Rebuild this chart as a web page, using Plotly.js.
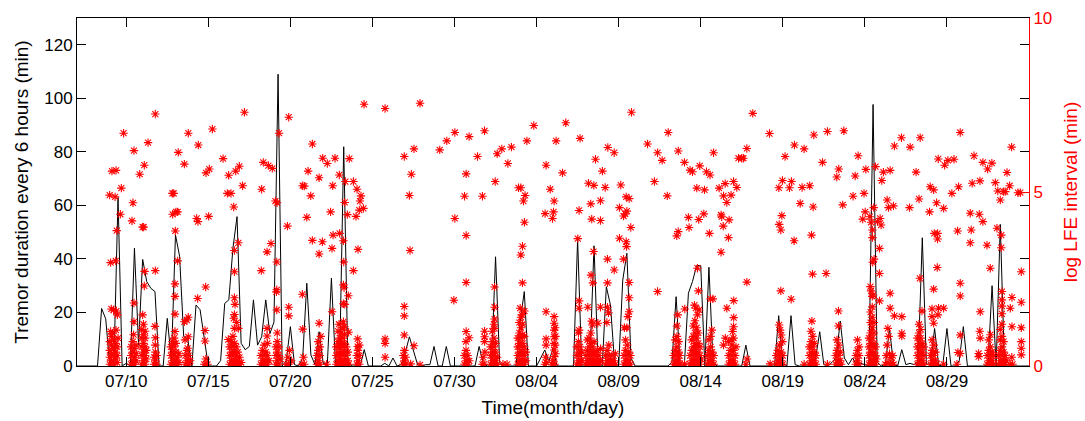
<!DOCTYPE html>
<html>
<head>
<meta charset="utf-8">
<script src="https://cdn.plot.ly/plotly-3.0.1.min.js"></script>
<style>html,body{margin:0;padding:0;background:#fff}#chart{width:1085px;height:421px}</style>
</head>
<body>
<div id="chart"></div>
<script>
// Time axis: days since 07/07 00:00
const axisDays = [0, 58];
const tickDays = [3, 8, 13, 18, 23, 28, 33, 38, 43, 48, 53];
const tickLabels = ['07/10','07/15','07/20','07/25','07/30','08/04','08/09','08/14','08/19','08/24','08/29'];
const tremorStepDays = 0.25; // one sample every 6 hours

// Tremor duration every 6 hours (min), from 07/07 00:00
const tremorMinutes = [
  0,0,0,0,0,0,21.5,17.6,0,1,
  62.9,0,1,0,44,7.8,39.8,31.5,29,27.8,
  0,0,17.8,2,49,41,11,10,0,22.8,
  21,10,0,0,0,2,23.4,24.7,44,55.8,
  8.5,6.1,7.3,24.7,7.8,10.9,24.7,12.1,16.4,109,
  0,2,14.7,0.5,0,3,30.9,4.1,0.5,12.8,
  1,0.5,32.8,0.5,1,81.9,1.4,0,0,0,
  6.1,0,0,0,0,1,0,3,0,0.5,
  5,10.9,5.5,0.5,0,0.5,0.5,7.3,0,0,
  7.3,0,0,0,0,0,0,0,7.3,1,
  0,0,40.8,1,0,0,0,0,16.5,27.8,
  0,0,0,3,6,1.7,6.6,0,0,0,
  0,0,47.4,0,0,2,44.9,0,0,29.6,
  22.8,1.4,0,32.1,42.1,3,0,0,0,0,
  0,0,0,0,0,1.4,25.9,0,0,27.2,
  31.6,37.5,37.5,0,36.9,1.4,0,0,0,0,
  0,0,0,7.8,0,0,0,0,0,0,
  0,18.8,1,0,18.8,0.5,0,0,0,0,
  3,12.8,0.5,0,1.4,3,16.8,3,0.5,3,
  0.5,1,0.5,0,97.7,1.4,0,0.5,14,0.5,
  0,6.1,0.5,1,0.5,2,47.9,0.5,1,14,
  0,0.5,14,0,0,2,14.7,0,0,0,
  0,0,0.5,30,0,52.9,1.4,0,0,0,
  0,0,0
];

// log LFE interval (min): [day since 07/07, value]
const lfeUpperJuly = [
  [4.77,7.24],[2.84,6.69],[6.78,6.69],[4.33,6.42],[7.39,6.35],[3.47,6.19],[6.17,6.14],[4.10,5.77],[6.54,5.80],[2.13,5.60],[2.38,5.62],[3.82,5.51],[2.70,5.11],[1.99,4.91],[2.32,4.86],[5.81,4.96],[5.89,4.96],[3.41,4.69],[2.64,4.36],[5.83,4.36],[6.03,4.43],[6.13,4.43],[7.29,4.24],[7.37,4.15],[3.35,4.17],[4.00,3.99],[4.06,3.99],[2.42,3.89],[5.99,3.88],[2.05,2.97],[2.36,3.02],[6.13,3.02],[4.12,2.72],[4.77,2.74],[4.10,2.30],[5.97,2.36],[5.97,2.00],[7.35,1.94],[3.47,1.81],[2.09,1.64],[2.23,1.61],[2.40,1.58],[2.46,1.47],[5.97,1.49],[6.78,1.40],[6.70,1.32],[4.00,1.47],[3.47,1.27],[4.75,1.14],[6.54,1.27],[2.05,0.99],[2.17,0.94],[2.38,1.03],[5.97,0.99],[6.58,0.75],[4.77,0.81],[6.78,0.84],[4.77,0.60],[6.74,0.51],
  [10.20,7.29],[12.90,7.15],[8.25,6.81],[12.31,6.69],[14.34,6.38],[8.90,5.96],[11.35,5.85],[11.66,5.76],[11.90,5.68],[8.06,5.66],[7.86,5.55],[9.89,5.74],[9.67,5.60],[9.24,5.48],[14.08,5.60],[14.75,5.41],[10.09,5.18],[11.25,5.08],[13.75,5.18],[13.85,5.17],[9.16,4.96],[9.38,4.96],[14.24,4.89],[12.09,4.74],[12.19,4.69],[9.55,4.57],[8.02,4.30],[14.00,4.27],[12.82,4.02],[9.83,3.54],[11.82,3.52],[14.34,3.61],[9.59,3.32],[11.58,3.28],[14.75,3.22],[12.17,2.99],[9.59,2.71],[11.23,2.74],[7.84,2.27],[12.17,2.19],[12.15,2.13],[13.73,2.06],[9.59,1.96],[9.63,1.77],[12.17,1.61],[12.90,1.69],[12.90,1.44],[9.59,1.48],[9.55,1.37],[9.73,1.25],[14.75,1.23],[11.58,1.08],[9.59,1.08],[9.83,1.08],[13.75,1.06],[7.80,1.02],[7.80,0.72],[9.22,0.76],[11.58,0.86],
  [17.49,7.52],[18.77,7.40],[20.90,7.55],[20.53,6.24],[22.10,6.21],[19.94,6.02],[14.97,5.97],[15.25,5.82],[15.72,5.97],[16.59,5.96],[15.98,5.49],[16.35,5.30],[16.84,5.30],[20.37,5.51],[15.58,5.18],[17.06,5.08],[17.30,4.89],[17.24,4.74],[17.20,4.48],[17.45,4.53],[20.25,4.90],[16.31,4.70],[15.45,4.43],[16.47,4.35],[17.00,4.30],[16.00,3.81],[15.60,3.76],[14.95,3.57],[16.23,3.60],[15.54,3.38],[17.12,3.35],[20.29,3.32],[16.25,2.99],[16.84,2.74],[16.23,2.33],[16.27,2.25],[16.53,2.02],[16.23,1.79],[16.31,1.77],[15.54,1.56],[19.94,1.71],[19.94,1.44],[16.23,1.27],[16.29,1.13],[15.96,1.20],[16.55,0.97],[19.94,0.89],[17.10,0.78],[18.77,0.78],[18.77,0.65],[17.10,0.56],[20.53,0.58],[18.77,0.25],[20.33,0.06],[20.90,0.03],[15.21,0.05],
  [27.83,6.91],[24.83,6.76],[23.02,6.71],[23.89,6.59],[22.53,6.47],[27.41,6.47],[29.19,6.47],[26.47,6.29],[25.88,6.24],[25.60,6.10],[24.40,6.02],[26.25,5.82],[28.58,5.77],[23.71,5.52],[25.48,5.30],[26.90,5.12],[27.04,5.12],[28.83,5.08],[23.61,4.88],[24.70,4.88],[27.30,4.90],[27.20,4.74],[29.07,4.74],[28.52,4.38],[29.03,4.43],[28.97,4.24],[23.02,4.24],[27.26,4.13],[23.71,3.75],[27.14,3.44],[27.04,3.19],[23.71,2.40],[27.14,2.39],[25.44,2.27],[22.96,1.89],[25.44,1.69],[28.58,1.56],[27.00,1.66],[27.26,1.58],[27.10,1.47],[25.44,1.35],[25.44,1.08],[23.71,0.99],[23.89,0.81],[24.83,1.00],[24.83,0.84],[24.83,0.70],[28.58,0.78],[28.58,0.60],[29.07,1.42],[29.07,1.23],[29.07,1.03],[29.07,0.84],[29.07,0.65],[29.07,0.46],[29.07,0.27]
];
const lfeUpperAugust = [
  [33.78,7.29],[29.78,6.99],[36.02,6.71],[30.65,6.54],[34.76,6.38],[32.34,6.28],[35.37,6.13],[36.63,6.18],[32.73,6.13],[31.59,5.94],[35.65,5.91],[32.01,5.60],[29.58,5.55],[31.16,5.25],[31.49,5.19],[32.18,5.13],[33.13,5.20],[35.18,5.30],[33.46,4.86],[33.64,4.81],[35.96,4.89],[31.89,4.75],[31.30,4.66],[30.59,4.47],[33.05,4.55],[33.50,4.45],[33.40,4.37],[33.30,4.31],[31.36,4.22],[31.89,4.18],[33.74,3.98],[36.63,3.86],[36.54,3.74],[30.51,3.66],[33.05,3.67],[33.46,3.57],[33.48,3.43],[31.47,3.29],[32.32,3.07],[33.30,3.07],[32.73,2.76],[31.32,2.61],[31.43,2.39],[32.32,2.39],[33.64,2.40],[35.37,2.14],[33.64,1.96],[30.59,1.87],[30.59,1.66],[31.12,1.69],[31.89,1.69],[32.32,1.69],[32.38,1.53],[33.64,1.56],[33.56,1.42],[36.60,1.47],[31.36,1.29],[31.40,1.18],[31.73,1.23],[32.28,1.25],[33.35,1.10],[33.50,1.10],[30.59,1.03],
  [41.17,7.26],[42.19,6.68],[43.71,6.35],[38.78,6.13],[40.81,6.25],[40.30,5.97],[40.50,5.97],[40.60,5.97],[43.14,6.02],[37.01,5.85],[37.94,5.75],[37.35,5.63],[37.50,5.58],[38.35,5.58],[38.57,5.49],[40.00,5.30],[39.49,5.24],[39.12,5.11],[40.20,5.13],[37.76,5.11],[38.23,5.06],[42.98,5.33],[43.53,5.30],[42.76,5.12],[43.41,5.12],[39.85,4.91],[39.39,4.89],[39.59,4.70],[44.06,4.67],[38.19,4.37],[37.88,4.21],[37.25,4.27],[39.24,4.34],[39.28,4.29],[39.73,4.20],[42.94,4.32],[39.37,4.02],[42.78,4.07],[42.88,3.91],[37.29,3.98],[38.53,3.81],[39.69,3.69],[43.69,3.60],[39.24,3.27],[37.80,2.81],[40.81,2.41],[42.88,2.16],[43.51,1.92],[38.60,1.93],[38.74,1.93],[40.01,1.88],[37.03,1.64],[39.59,1.66],[40.01,1.39],[37.86,2.16],[37.62,1.75],[37.70,1.66],[37.90,1.61],[37.80,1.47],[38.68,1.03],[40.00,1.13],[39.94,0.99],[39.50,0.80],[39.70,0.70],[39.90,0.75],[39.39,0.60],[42.78,1.18],[42.84,1.03],[42.90,0.89],[42.98,0.70],[42.23,0.06],[37.01,0.06],
  [44.89,6.64],[45.72,6.74],[46.72,6.76],[44.30,6.24],[50.23,6.56],[49.80,6.32],[50.76,6.29],[51.37,6.56],[47.59,6.04],[45.42,5.85],[46.41,5.66],[46.29,5.43],[48.06,5.65],[48.65,5.73],[49.13,5.57],[49.03,5.33],[49.54,5.62],[51.12,5.57],[47.41,5.46],[44.18,5.13],[44.64,5.18],[47.95,4.96],[47.28,4.88],[49.36,4.77],[49.44,4.55],[49.74,4.60],[44.85,4.57],[46.65,4.63],[50.72,4.55],[51.30,4.80],[48.54,4.55],[48.02,4.43],[47.87,4.22],[48.30,4.29],[48.38,4.13],[48.77,4.15],[48.93,4.24],[48.99,4.05],[48.46,3.91],[48.46,3.69],[44.75,3.76],[48.89,3.38],[48.56,3.07],[48.48,2.98],[44.81,2.64],[45.64,2.66],[48.89,2.66],[51.35,2.52],[48.34,2.28],[48.38,2.16],[48.50,2.04],[49.54,2.09],[48.89,1.87],[46.39,1.58],[49.54,1.66],[49.80,1.44],[50.25,1.42],[44.77,1.29],[46.39,1.15],[50.25,0.94],[50.25,0.86],[49.40,1.08],[44.30,0.05],[45.72,0.05],
  [53.81,6.71],[56.94,6.29],[54.65,6.04],[52.47,5.95],[53.06,5.91],[52.86,5.77],[53.43,5.94],[55.19,5.85],[55.74,5.83],[55.48,5.66],[55.01,5.32],[54.54,5.25],[55.95,5.27],[56.66,5.56],[53.71,5.15],[53.30,4.96],[51.98,5.15],[52.19,5.06],[56.82,5.18],[56.10,5.03],[56.45,5.01],[56.55,5.01],[56.25,4.77],[57.33,4.98],[57.47,4.98],[52.37,4.69],[52.80,4.53],[51.94,4.43],[54.42,4.39],[54.97,4.36],[55.19,4.15],[54.48,3.91],[56.05,3.96],[53.65,3.88],[52.23,3.81],[52.43,3.81],[52.43,3.65],[56.31,3.76],[56.31,3.40],[54.42,3.54],[55.44,3.47],[52.41,2.83],[55.64,2.81],[57.53,2.71],[53.81,2.38],[53.81,2.01],[52.19,2.21],[56.35,2.14],[56.96,1.97],[57.53,1.83],[51.48,1.58],[52.09,1.64],[52.49,1.66],[52.80,1.66],[56.35,1.72],[56.86,1.66],[55.03,1.56],[52.09,1.42],[52.19,1.23],[52.45,1.47],[53.81,0.89],[55.00,1.00],[55.03,0.80],[56.96,1.13],[57.53,1.10],[53.67,0.39],[53.81,0.36],[54.93,0.36],[54.93,0.27],[57.53,0.70],[57.53,0.51],[57.53,0.32],[52.80,0.05],[53.61,0.05]
];
const lfeBurstsJuly = [
  [2.0,0.05],[2.0,0.25],[2.0,0.45],[2.0,0.7],[2.1,0.15],[2.1,0.35],[2.1,0.6],[2.1,0.85],[2.25,0.05],[2.25,0.3],[2.25,0.5],[2.25,0.75],[2.35,0.2],[2.35,0.4],[2.35,0.65],[2.45,0.1],[2.45,0.3],[2.45,0.55],[2.5,0.8],
  [3.3,0.05],[3.3,0.3],[3.3,0.55],[3.4,0.15],[3.4,0.4],[3.4,0.7],[3.5,0.05],[3.5,0.25],[3.5,0.5],[3.6,0.15],[3.6,0.35],[3.6,0.6],[3.45,0.9],
  [3.95,0.05],[3.95,0.3],[3.95,0.55],[3.95,0.8],[3.95,1.05],[4.05,0.15],[4.05,0.4],[4.05,0.65],[4.05,0.9],[4.05,1.2],[4.15,0.05],[4.15,0.3],[4.15,0.55],[4.15,0.8],[4.15,1.0],[4.22,0.2],[4.22,0.45],
  [4.7,0.05],[4.7,0.25],[4.78,0.15],[4.78,0.4],[4.85,0.05],[4.85,0.3],
  [5.72,0.05],[5.72,0.3],[5.72,0.55],[5.82,0.15],[5.82,0.4],[5.82,0.7],[5.92,0.05],[5.92,0.3],[5.92,0.55],[5.92,0.8],[6.02,0.15],[6.02,0.4],[6.02,0.65],[6.12,0.05],[6.12,0.25],[6.2,0.1],[6.2,0.35],
  [6.6,0.05],[6.6,0.3],[6.7,0.15],[6.7,0.45],[6.8,0.05],[6.8,0.3],[6.9,0.15],
  [7.75,0.05],[7.85,0.2],[7.95,0.05],
  [9.3,0.05],[9.3,0.3],[9.3,0.55],[9.4,0.15],[9.4,0.4],[9.4,0.7],[9.5,0.05],[9.5,0.3],[9.5,0.55],[9.5,0.85],[9.6,0.15],[9.6,0.4],[9.6,0.65],[9.7,0.05],[9.7,0.3],[9.7,0.55],[9.8,0.15],[9.8,0.4],[9.9,0.05],[9.9,0.25],[10.0,0.1],
  [11.2,0.05],[11.2,0.3],[11.3,0.15],[11.3,0.45],[11.4,0.05],[11.4,0.3],[11.4,0.6],[11.5,0.15],[11.5,0.4],[11.6,0.05],[11.6,0.3],[11.6,0.65],[11.7,0.15],
  [12.12,0.05],[12.12,0.3],[12.12,0.55],[12.2,0.15],[12.2,0.4],[12.2,0.7],[12.2,0.95],[12.3,0.05],[12.3,0.3],[12.3,0.55],[12.38,0.2],
  [12.75,0.05],[12.85,0.25],[12.9,0.05],[12.95,0.45],[13.05,0.15],
  [13.7,0.05],[13.8,0.25],[13.85,0.05],
  [14.62,0.05],[14.62,0.3],[14.7,0.15],[14.7,0.45],[14.7,0.7],[14.8,0.05],[14.8,0.3],[14.8,0.55],[14.85,0.85],
  [15.8,0.05],[15.8,0.3],[15.8,0.55],[15.9,0.15],[15.9,0.4],[15.9,0.7],[15.9,1.0],[16.0,0.05],[16.0,0.3],[16.0,0.55],[16.0,0.8],[16.1,0.15],[16.1,0.4],[16.1,0.65],[16.1,0.95],[16.2,0.05],[16.2,0.3],[16.2,0.55],[16.2,0.8],[16.2,1.1],[16.3,0.15],[16.3,0.4],[16.3,0.65],[16.3,0.9],[16.4,0.05],[16.4,0.3],[16.4,0.55],[16.5,0.15],[16.5,0.4],[16.55,0.05],
  [17.05,0.05],[17.05,0.3],[17.12,0.15],[17.12,0.45],[17.2,0.05],[17.2,0.3],[17.2,0.6],
  [19.88,0.05],[19.88,0.3],[19.95,0.15],[19.95,0.45],[20.02,0.05],[20.02,0.25],
  [23.6,0.05],[23.6,0.3],[23.7,0.15],[23.7,0.45],[23.7,0.7],[23.8,0.05],[23.8,0.3],[23.9,0.15],
  [24.7,0.05],[24.75,0.25],[24.8,0.05],[24.85,0.4],
  [25.2,0.05],[25.2,0.3],[25.2,0.55],[25.3,0.15],[25.3,0.4],[25.3,0.7],[25.3,1.0],[25.4,0.05],[25.4,0.3],[25.4,0.55],[25.4,0.8],[25.4,1.2],[25.5,0.15],[25.5,0.4],[25.5,0.65],[25.6,0.05],[25.6,0.25],
  [25.95,0.05],[26.2,0.05],
  [26.85,0.05],[26.85,0.3],[26.85,0.55],[26.85,0.8],[26.95,0.15],[26.95,0.4],[26.95,0.65],[26.95,0.95],[26.95,1.25],[27.05,0.05],[27.05,0.3],[27.05,0.55],[27.05,0.8],[27.05,1.1],[27.05,1.4],[27.15,0.15],[27.15,0.4],[27.15,0.65],[27.15,0.9],[27.15,1.2],[27.25,0.05],[27.25,0.3],[27.25,0.55],[27.25,0.85],[27.35,0.15],[27.35,0.4],
  [28.5,0.05],[28.55,0.25],[28.6,0.1],
  [28.95,0.05],[29.0,0.15],[29.1,0.05],[29.15,0.35],[29.13,0.6],[29.15,0.85],[29.13,1.1]
];
const lfeBurstsAugust = [
  [30.45,0.05],[30.45,0.3],[30.45,0.55],[30.55,0.15],[30.55,0.4],[30.55,0.7],[30.55,0.95],[30.65,0.05],[30.65,0.3],[30.65,0.55],[30.75,0.15],[30.75,0.4],
  [31.0,0.05],[31.0,0.3],[31.1,0.15],[31.1,0.45],[31.1,0.75],[31.2,0.05],[31.2,0.3],[31.2,0.55],[31.2,0.8],[31.3,0.15],[31.3,0.4],[31.3,0.65],[31.3,0.95],[31.4,0.05],[31.4,0.3],[31.4,0.55],[31.5,0.15],[31.5,0.4],[31.5,0.7],[31.6,0.05],[31.6,0.3],[31.7,0.15],[31.7,0.45],[31.8,0.05],[31.8,0.3],[31.9,0.15],[31.9,0.5],
  [32.2,0.05],[32.2,0.3],[32.3,0.15],[32.3,0.45],[32.4,0.05],[32.4,0.3],[32.4,0.6],[32.5,0.15],[32.6,0.05],[32.6,0.3],[32.7,0.15],[32.8,0.05],[32.8,0.35],
  [33.32,0.05],[33.32,0.3],[33.42,0.15],[33.42,0.45],[33.42,0.75],[33.52,0.05],[33.52,0.3],[33.52,0.6],[33.62,0.15],[33.62,0.4],[33.72,0.05],[33.72,0.3],
  [36.35,0.05],[36.35,0.3],[36.45,0.15],[36.45,0.45],[36.45,0.75],[36.55,0.05],[36.55,0.3],[36.55,0.55],[36.55,0.85],[36.55,1.15],[36.65,0.15],[36.65,0.4],[36.65,0.7],[36.72,0.05],[36.72,0.3],
  [37.35,0.05],[37.35,0.3],[37.45,0.15],[37.45,0.45],[37.45,0.75],[37.55,0.05],[37.55,0.3],[37.55,0.55],[37.55,0.85],[37.55,1.15],[37.65,0.15],[37.65,0.4],[37.65,0.65],[37.65,0.95],[37.65,1.3],[37.75,0.05],[37.75,0.3],[37.75,0.55],[37.75,0.8],[37.75,1.1],[37.85,0.15],[37.85,0.4],[37.85,0.65],[37.85,0.95],[37.95,0.05],[37.95,0.3],[37.95,0.55],[38.03,0.2],
  [38.4,0.05],[38.4,0.3],[38.5,0.15],[38.5,0.45],[38.5,0.75],[38.6,0.05],[38.6,0.3],[38.6,0.55],[38.6,0.85],[38.7,0.15],[38.7,0.4],[38.8,0.05],[38.8,0.3],
  [39.7,0.05],[39.7,0.3],[39.8,0.15],[39.8,0.45],[39.9,0.05],[39.9,0.3],[39.9,0.6],[40.0,0.15],[40.0,0.45],[40.0,0.8],[40.1,0.05],[40.1,0.3],[40.15,0.55],
  [40.75,0.05],[40.82,0.2],
  [42.6,0.05],[42.6,0.3],[42.7,0.15],[42.7,0.45],[42.8,0.05],[42.8,0.3],[42.8,0.6],[42.9,0.15],[42.9,0.4],[43.0,0.05],[43.0,0.3],
  [44.62,0.05],[44.62,0.3],[44.62,0.55],[44.72,0.15],[44.72,0.4],[44.72,0.7],[44.72,1.0],[44.82,0.05],[44.82,0.3],[44.82,0.55],[44.82,0.85],[44.92,0.15],[44.92,0.4],[44.92,0.65],[45.02,0.05],[45.02,0.3],
  [46.22,0.05],[46.22,0.3],[46.3,0.15],[46.3,0.45],[46.3,0.75],[46.4,0.05],[46.4,0.3],[46.4,0.6],[46.5,0.15],[46.5,0.4],[46.55,0.05],
  [47.45,0.05],[47.45,0.3],[47.55,0.15],[47.55,0.45],[47.55,0.75],[47.65,0.05],[47.65,0.3],[47.65,0.55],
  [48.25,0.05],[48.25,0.3],[48.25,0.55],[48.25,0.8],[48.35,0.15],[48.35,0.4],[48.35,0.65],[48.35,0.95],[48.35,1.25],[48.35,1.55],[48.45,0.05],[48.45,0.3],[48.45,0.55],[48.45,0.8],[48.45,1.1],[48.45,1.4],[48.45,1.7],[48.45,2.0],[48.55,0.15],[48.55,0.4],[48.55,0.65],[48.55,0.95],[48.55,1.25],[48.65,0.05],[48.65,0.3],[48.65,0.55],[48.7,0.2],
  [49.25,0.05],[49.3,0.3],[49.35,0.6],[49.4,0.1],[49.45,0.85],[49.5,0.35],[49.55,0.05],[49.6,0.25],[49.65,0.1],[49.7,0.3],[49.75,0.05],
  [51.2,0.05],[51.2,0.3],[51.2,0.55],[51.2,0.8],[51.3,0.15],[51.3,0.4],[51.3,0.65],[51.3,0.95],[51.3,1.2],[51.4,0.05],[51.4,0.3],[51.4,0.55],[51.4,0.8],[51.4,1.05],[51.5,0.15],[51.5,0.4],[51.5,0.65],[51.6,0.05],[51.6,0.3],[51.6,0.55],
  [52.0,0.05],[52.0,0.3],[52.1,0.15],[52.1,0.45],[52.1,0.75],[52.2,0.05],[52.2,0.3],[52.2,0.6],[52.3,0.15],[52.3,0.4],[52.38,0.05],
  [55.45,0.05],[55.45,0.3],[55.55,0.15],[55.55,0.45],[55.55,0.75],[55.65,0.05],[55.65,0.3],[55.65,0.55],[55.65,0.9],[55.75,0.15],[55.75,0.4],[55.85,0.05],[55.85,0.3],
  [56.15,0.05],[56.15,0.3],[56.25,0.15],[56.25,0.45],[56.25,0.75],[56.25,1.05],[56.35,0.05],[56.35,0.3],[56.35,0.55],[56.35,0.85],[56.35,1.2],[56.35,1.5],[56.35,1.9],[56.45,0.15],[56.45,0.4],[56.45,0.7],[56.55,0.05],[56.55,0.3],[56.62,0.15],
  [56.85,0.05],[56.95,0.25],[57.0,0.05]
];

const lfeAll = lfeUpperJuly.concat(lfeUpperAugust, lfeBurstsJuly, lfeBurstsAugust);
const tremorX = tremorMinutes.map((_, i) => i * tremorStepDays);

const FONT = 'Liberation Sans, Arial, Helvetica, sans-serif';

const traces = [
  {
    x: tremorX, y: tremorMinutes, type: 'scatter', mode: 'lines',
    line: {color: '#000000', width: 1}, yaxis: 'y', hoverinfo: 'skip'
  },
  {
    x: lfeAll.map(p => p[0]), y: lfeAll.map(p => p[1]), type: 'scatter', mode: 'markers',
    yaxis: 'y2',
    marker: {symbol: 'asterisk-open', size: 7, color: '#ff0000', line: {color: '#ff0000', width: 1.1}},
    hoverinfo: 'skip'
  }
];

const layout = {
  width: 1085, height: 421,
  margin: {l: 77, r: 56, t: 18, b: 55, pad: 0},
  paper_bgcolor: '#ffffff', plot_bgcolor: '#ffffff',
  showlegend: false,
  font: {family: FONT, size: 17, color: '#000000'},
  xaxis: {
    range: axisDays, tickmode: 'array', tickvals: tickDays, ticktext: tickLabels,
    ticks: 'inside', ticklen: 9, tickwidth: 1, tickcolor: '#000000',
    showline: true, linecolor: '#000000', linewidth: 1, mirror: 'ticks',
    showgrid: false, zeroline: false,
    tickfont: {family: FONT, size: 17, color: '#000000'},
    title: {text: 'Time(month/day)', font: {family: FONT, size: 19, color: '#000000'}, standoff: 10}
  },
  yaxis: {
    range: [0, 130], tickmode: 'array', tickvals: [0, 20, 40, 60, 80, 100, 120],
    ticks: 'inside', ticklen: 9, tickwidth: 1, tickcolor: '#000000',
    showline: true, linecolor: '#000000', linewidth: 1, mirror: 'ticks',
    showgrid: false, zeroline: false,
    tickfont: {family: FONT, size: 17, color: '#000000'},
    title: {text: 'Tremor duration every 6 hours (min)', font: {family: FONT, size: 19, color: '#000000'}, standoff: 10}
  },
  yaxis2: {
    overlaying: 'y', side: 'right', range: [0, 10], tickmode: 'array', tickvals: [0, 5, 10],
    ticks: 'inside', ticklen: 9, tickwidth: 1, tickcolor: '#ff0000',
    showline: true, linecolor: '#ff0000', linewidth: 1,
    showgrid: false, zeroline: false,
    tickfont: {family: FONT, size: 17, color: '#ff0000'},
    title: {text: 'log LFE interval (min)', font: {family: FONT, size: 19, color: '#ff0000'}, standoff: 12}
  }
};

Plotly.newPlot('chart', traces, layout, {displayModeBar: false, staticPlot: true});
</script>
</body>
</html>
